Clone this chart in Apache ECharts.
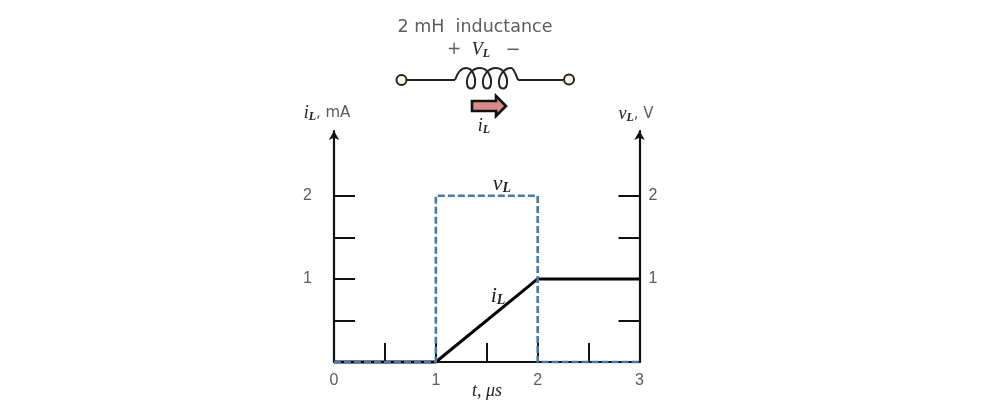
<!DOCTYPE html>
<html>
<head>
<meta charset="utf-8">
<style>html,body{margin:0;padding:0;background:#fff}#c{width:983px;height:416px}</style>
<script src="https://cdn.jsdelivr.net/npm/echarts@6/dist/echarts.min.js"></script>
</head>
<body>
<div id="c"></div>
<script>
const iLPoints = [[0, 0], [1, 0], [2, 1], [3, 1]];
const vLPoints = [[0, 0], [1, 0], [1, 2], [2, 2], [2, 0], [3, 0]];
const xTickValues = [0.5, 1, 1.5, 2, 2.5];
const xLabelValues = [0, 1, 2, 3];
const yTickValues = [0.5, 1, 1.5, 2];
const yLabelValues = [1, 2];
const yTop = 2.78;

const gray = '#5c5c5c';
const sans = '"DejaVu Sans"';
const tickFont = '"Liberation Sans"';
const serif = '"Liberation Serif","DejaVu Serif",serif';
const mathRich = {
  m: {fontFamily: serif, fontStyle: 'italic', fontSize: 18, fill: '#222'},
  s: {fontFamily: serif, fontStyle: 'italic', fontWeight: 'bold', fontSize: 12, fill: '#222', padding: [7, 0, 0, 0]},
  b: {fontFamily: serif, fontStyle: 'italic', fontSize: 22, fill: '#222'},
  c: {fontFamily: serif, fontStyle: 'italic', fontWeight: 'bold', fontSize: 14, fill: '#222', padding: [9, 0, 0, 0]},
  r: {fontFamily: sans, fontSize: 15, fill: gray}
};
const note = (x, y, text) => ({
  type: 'text', x, y, silent: true,
  style: {text, rich: mathRich, align: 'center', verticalAlign: 'middle', fontSize: 16, fill: '#222'}
});
const plain = (x, y, text, size) => ({
  type: 'text', x, y, silent: true,
  style: {text, align: 'center', verticalAlign: 'middle', fontFamily: sans, fontSize: size, fill: gray}
});
const wireStyle = {fill: 'none', stroke: '#222', lineWidth: 2};
const wire = (x1, y1, x2, y2) => ({type: 'line', silent: true, shape: {x1, y1, x2, y2}, style: wireStyle});
const coilSegments = [
  [455,80,458,71,462,68,466,68],[466,68,473,68,476,78,475,84],[475,84,474,90,468,90,467,84],[467,84,466,76,472,68,480,68],
  [480,68,488,68,492,78,491,84],[491,84,490,90,484,90,483,84],[483,84,482,76,488,68,496,68],
  [496,68,504,68,508,78,507,84],[507,84,506,90,500,90,499,84],[499,84,498,76,504,68,511,68],[511,68,514,68,516,75,518,80]
];
const coil = coilSegments.map(s => ({
  type: 'bezierCurve', silent: true,
  shape: {x1: s[0], y1: s[1], cpx1: s[2], cpy1: s[3], cpx2: s[4], cpy2: s[5], x2: s[6], y2: s[7]},
  style: wireStyle
}));

const yAxisBase = (position, margin) => ({
  type: 'value', position, min: 0, max: yTop, interval: 1,
  splitLine: {show: false},
  axisLine: {show: true, onZero: false, symbol: ['none', 'arrow'], symbolSize: [8, 9], lineStyle: {color: '#111', width: 2.2}},
  axisTick: {show: true, inside: true, length: 21, customValues: yTickValues, lineStyle: {color: '#111', width: 2}},
  axisLabel: {show: true, margin, customValues: yLabelValues, fontFamily: tickFont, fontSize: 16, color: gray}
});

const chart = echarts.init(document.getElementById('c'), null, {renderer: 'canvas'});
chart.setOption({
  animation: false,
  backgroundColor: '#fff',
  grid: {left: 334, right: 343.5, top: 131, bottom: 54},
  xAxis: {
    type: 'value', min: 0, max: 3, interval: 1,
    splitLine: {show: false},
    axisLine: {show: true, onZero: false, lineStyle: {color: '#111', width: 2.2}},
    axisTick: {show: true, inside: true, length: 19, customValues: xTickValues, lineStyle: {color: '#111', width: 2}},
    axisLabel: {show: true, margin: 11, customValues: xLabelValues, fontFamily: tickFont, fontSize: 16, color: gray}
  },
  yAxis: [yAxisBase('left', 22), yAxisBase('right', 9)],
  series: [
    {name: 'iL', type: 'line', data: iLPoints, symbol: 'none', clip: false, z: 3, lineStyle: {color: '#000', width: 3}},
    {name: 'vL', type: 'line', data: vLPoints, symbol: 'none', clip: false, z: 4, lineStyle: {color: '#4a78a8', width: 2.6, type: [7, 3]}}
  ],
  graphic: [
    plain(475, 27, '2 mH  inductance', 17.5),
    plain(454, 50, '+', 17),
    note(481, 50, '{m|V}{s|L}'),
    plain(513, 50, '−', 18),
    wire(407, 80, 455, 80),
    wire(518, 80, 563, 80),
    ...coil,
    {type: 'circle', silent: true, shape: {cx: 401.5, cy: 80, r: 5}, style: {fill: '#fdf6e8', stroke: '#222', lineWidth: 2}},
    {type: 'circle', silent: true, shape: {cx: 569, cy: 79.5, r: 5}, style: {fill: '#fdf6e8', stroke: '#222', lineWidth: 2}},
    {type: 'polygon', silent: true, shape: {points: [[472, 101], [496, 101], [496, 96], [506, 106], [496, 116], [496, 111], [472, 111]]},
      style: {fill: '#d88c8c', stroke: '#111', lineWidth: 2.6}},
    note(484, 126, '{m|i}{s|L}'),
    note(327, 113, '{m|i}{s|L}{r|, mA}'),
    note(636, 114, '{m|v}{s|L}{r|, V}'),
    note(502, 184, '{b|v}{c|L}'),
    note(498, 296, '{b|i}{c|L}'),
    note(487, 391, '{m|t, μs}')
  ]
});
</script>
</body>
</html>
